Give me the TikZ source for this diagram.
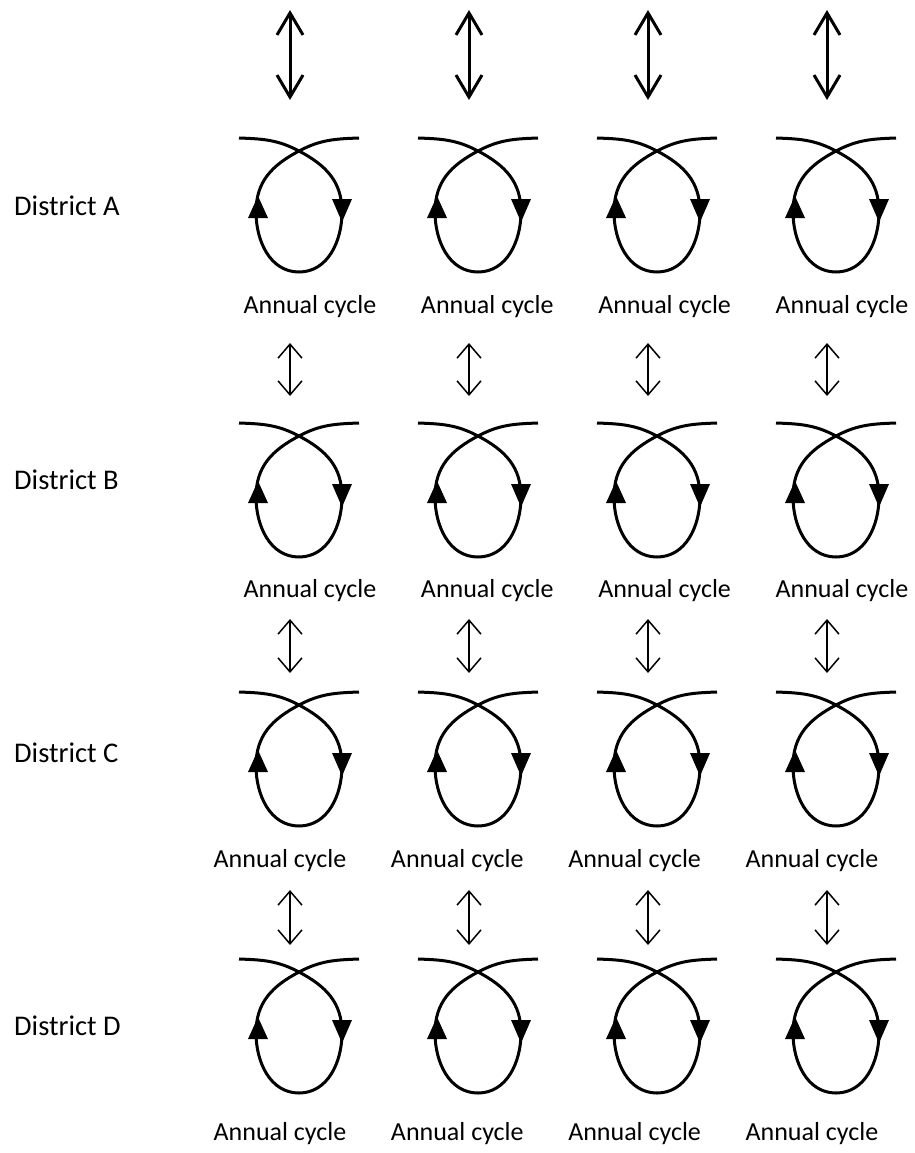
\documentclass[tikz,border=0pt]{standalone}
\usepackage{fontspec}
\setmainfont{Carlito}
\usetikzlibrary{arrows.meta}
\begin{document}
\begin{tikzpicture}[x=1pt,y=1pt,
  loopline/.style={line width=3pt},
  bigarrow/.style={line width=3pt,{Straight Barb[length=22pt,width=26pt]}-{Straight Barb[length=22pt,width=26pt]}},
  smallarrow/.style={line width=1.5pt,{Straight Barb[length=14pt,width=24pt]}-{Straight Barb[length=14pt,width=24pt]}},
  district/.style={font=\fontsize{28.5}{30}\selectfont, anchor=base west, inner sep=0pt},
  cyclelabel/.style={font=\fontsize{26}{28}\selectfont, anchor=base, inner sep=0pt}]
\useasboundingbox (0,0) rectangle (914,-1153);
% district labels
\foreach \r/\yb in {A/215, B/489, C/762, D/1035} {
  \node[district] (d\r) at (14,-\yb) {District \r};
}
% loops and labels
\foreach \r/\yt/\ty/\tx in {A/138/313/310, B/423/597/310, C/692/867/280, D/959/1140/280} {
  \foreach \c in {0,1,2,3} {
    \pgfmathsetmacro\cx{299+179*\c}
    \coordinate (x\r\c) at (\cx,-\yt-13);
    \draw[loopline] (\cx-60,-\yt) to[out=-2,in=152] (x\r\c)
      to[out=-28,in=90,looseness=1.05] (\cx+43,-\yt-74)
      to[out=-90,in=0] (\cx,-\yt-134)
      to[out=180,in=-90] (\cx-43,-\yt-74)
      to[out=90,in=-152,looseness=1.05] (x\r\c)
      to[out=28,in=182] (\cx+60,-\yt);
    \fill (\cx-41,-\yt-58) -- (\cx-51,-\yt-80) -- (\cx-31,-\yt-80) -- cycle;
    \fill (\cx+33,-\yt-61) -- (\cx+53,-\yt-61) -- (\cx+43,-\yt-84) -- cycle;
    \node[cyclelabel] (t\r\c) at ({\tx+177.3*\c},-\ty) {Annual cycle};
  }
}
% arrows
\foreach \c in {0,1,2,3} {
  \pgfmathsetmacro\ax{290+179*\c}
  \coordinate (p0\c) at (\ax,-10);
  \coordinate (q0\c) at (\ax,-100);
  \draw[bigarrow] (p0\c) -- (q0\c);
  \foreach \k/\ya/\yb in {1/343/396, 2/619/673, 3/890/945} {
    \coordinate (p\k\c) at (\ax,-\ya);
    \coordinate (q\k\c) at (\ax,-\yb);
    \draw[smallarrow] (p\k\c) -- (q\k\c);
  }
}
\end{tikzpicture}
\end{document}
